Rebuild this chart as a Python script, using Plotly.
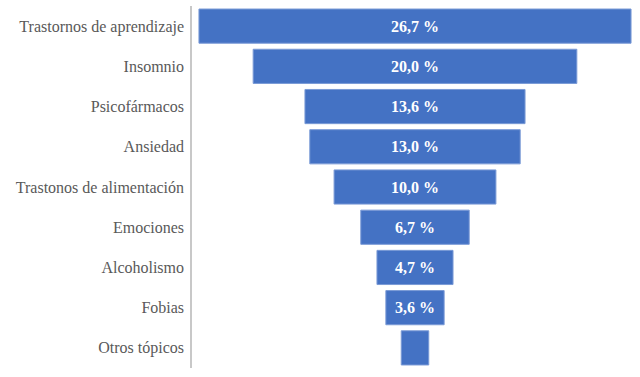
import plotly.graph_objects as go

categories = ["Trastornos de aprendizaje", "Insomnio", "Psicofármacos", "Ansiedad",
              "Trastonos de alimentación", "Emociones", "Alcoholismo", "Fobias", "Otros tópicos"]
values = [26.7, 20.0, 13.6, 13.0, 10.0, 6.7, 4.7, 3.6, 1.7]
labels = ["26,7 %", "20,0 %", "13,6 %", "13,0 %", "10,0 %", "6,7 %", "4,7 %", "3,6 %", ""]

fig = go.Figure(go.Funnel(
    y=categories,
    x=values,
    text=labels,
    textinfo="text",
    textposition="inside",
    insidetextanchor="middle",
    textfont=dict(family="Liberation Serif", size=16, color="white", weight="bold"),
    marker=dict(color="#4472C4", line=dict(color="#7a9ad6", width=1)),
    connector=dict(visible=False),
    constraintext="none",
    hoverinfo="skip",
))

fig.update_layout(
    width=640, height=377,
    margin=dict(l=192, r=2, t=6, b=9),
    paper_bgcolor="white", plot_bgcolor="white",
    funnelgap=0.15,
    showlegend=False,
    font=dict(family="Liberation Serif", size=16, color="#595959"),
)
fig.update_xaxes(range=[-13.78, 13.78], visible=False, showgrid=False, zeroline=False)
fig.update_yaxes(showline=True, linecolor="#c8c8c8", linewidth=1.5, showgrid=False,
                 ticks="", ticklabelstandoff=3, autorange="reversed")

fig.write_html("out.html", config={"displayModeBar": False},
               post_script="document.body.style.margin='0';")
